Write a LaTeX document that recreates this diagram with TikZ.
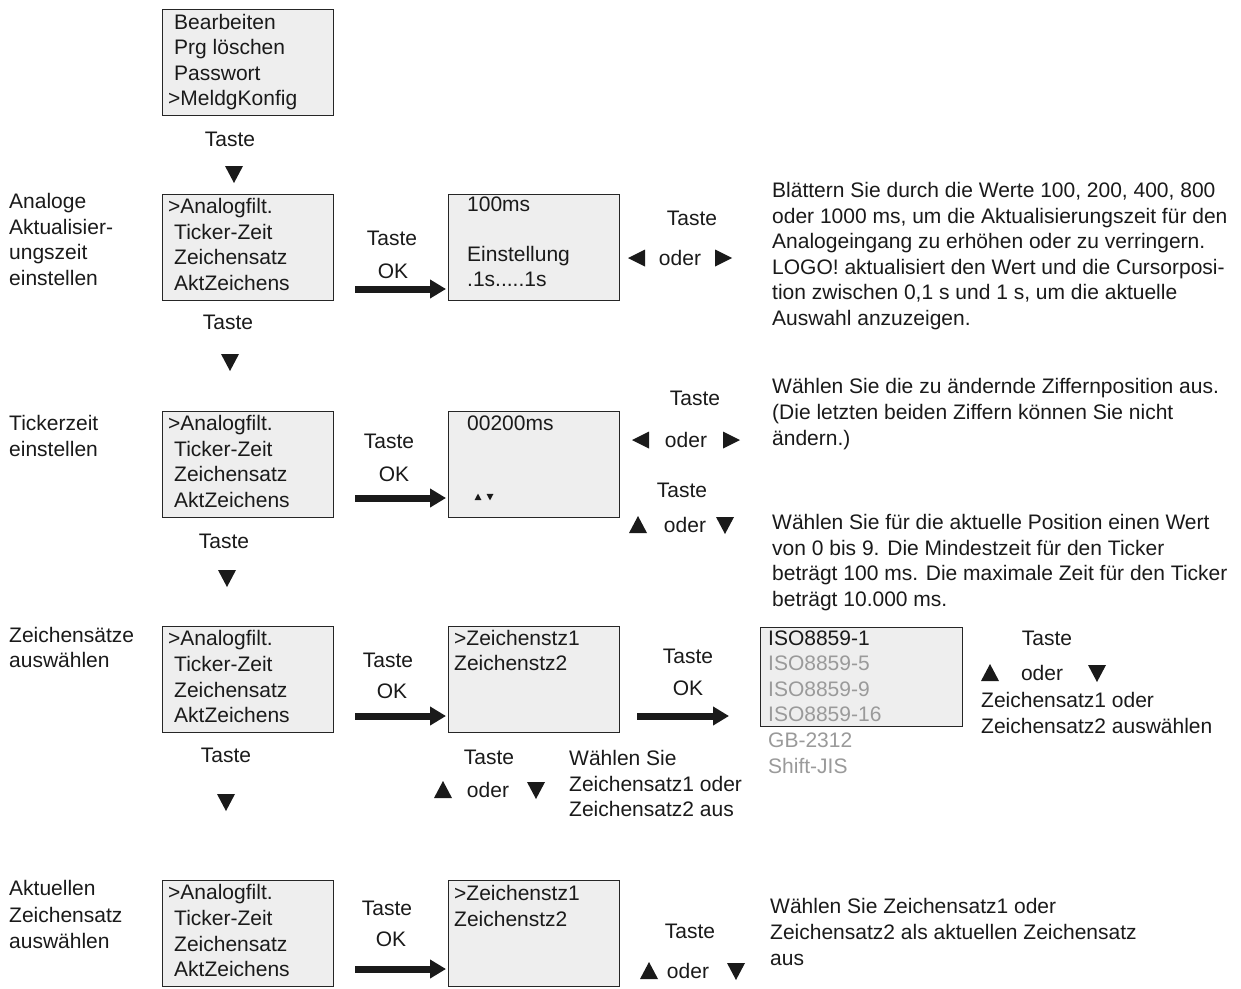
\documentclass[tikz,border=0pt]{standalone}
\usepackage{fontspec}
\setmainfont{Liberation Sans}
\usetikzlibrary{arrows.meta}
\definecolor{boxfill}{HTML}{EEEEEE}
\definecolor{greytxt}{HTML}{9A9A9A}
\definecolor{ink}{HTML}{1A1A1A}
\newcount\tnum
\newcommand\tl[3]{\global\advance\tnum by 1\relax
  \node[txt] (t\the\tnum) at ({#1},{#2+7.5}) {#3};}
\newcommand\tlg[3]{\global\advance\tnum by 1\relax
  \node[txt,text=greytxt] (t\the\tnum) at ({#1},{#2+7.5}) {#3};}
\newcommand\tc[3]{\global\advance\tnum by 1\relax
  \node[ctxt] (t\the\tnum) at ({#1},{#2+7.5}) {#3};}
\begin{document}
\begin{tikzpicture}[x=1pt,y=-1pt,
  lcd/.style={draw=black!85, line width=1.1pt, fill=boxfill, inner sep=0pt,
    minimum width=171pt, minimum height=106pt, anchor=north west},
  txt/.style={inner sep=0pt, anchor=base west, text=ink, font=\fontsize{21}{25}\selectfont},
  ctxt/.style={inner sep=0pt, anchor=base, text=ink, font=\fontsize{21}{25}\selectfont},
  bigarrow/.style={line width=7pt, draw=ink, -{Triangle[length=16pt,width=18pt]}},
  tri up/.pic={\fill[ink] (-9,8) -- (9,8) -- (0,-9) -- cycle;},
  tri down/.pic={\fill[ink] (-9,-8) -- (9,-8) -- (0,9) -- cycle;},
  tri left/.pic={\fill[ink] (8,-8.5) -- (8,8.5) -- (-9,0) -- cycle;},
  tri right/.pic={\fill[ink] (-8,-8.5) -- (-8,8.5) -- (9,0) -- cycle;}
]
\useasboundingbox (0,0) rectangle (1241,988);
\fill[white] (0,0) rectangle (1241,988);

% ---------- top menu ----------
\node[lcd] (m0) at (162,9) {};
\tl{174}{22}{Bearbeiten}
\tl{174}{47}{Prg löschen}
\tl{174}{73}{Passwort}
\tl{168}{98}{>MeldgKonfig}
\tc{230}{139}{Taste}
\pic at (234,174) {tri down};

% ---------- row 1 ----------
\tl{9}{201}{Analoge}
\tl{9}{226.5}{Aktualisier-}
\tl{9}{252}{ungszeit}
\tl{9}{277.5}{einstellen}
\node[lcd] (m1) at (162,194) {};
\tl{168}{206}{>Analogfilt.}
\tl{174}{232}{Ticker-Zeit}
\tl{174}{257}{Zeichensatz}
\tl{174}{283}{AktZeichens}
\tc{392}{238}{Taste}
\tc{393}{271}{OK}
\node[lcd] (d1) at (448,194) {};
\tl{467}{204}{100ms}
\tl{467}{254}{Einstellung}
\tl{467}{279}{.1s.....1s}
\coordinate (a1) at (355,289);
\draw[bigarrow, shorten >=2pt] (a1) -- (a1 -| d1.west);
\tc{692}{218}{Taste}
\pic at (637,258) {tri left};
\tc{680}{258}{oder}
\pic at (723,258) {tri right};
\tl{772}{190}{Blättern Sie durch die Werte 100, 200, 400, 800}
\tl{772}{215.5}{oder 1000 ms, um die Aktualisierungszeit für den}
\tl{772}{241}{Analogeingang zu erhöhen oder zu verringern.}
\tl{772}{266.5}{LOGO! aktualisiert den Wert und die Cursorposi-}
\tl{772}{292}{tion zwischen 0,1 s und 1 s, um die aktuelle}
\tl{772}{317.5}{Auswahl anzuzeigen.}
\tc{228}{322}{Taste}
\pic at (230,362) {tri down};

% ---------- row 2 ----------
\tl{9}{423}{Tickerzeit}
\tl{9}{449}{einstellen}
\node[lcd] (m2) at (162,411) {};
\tl{168}{423}{>Analogfilt.}
\tl{174}{449}{Ticker-Zeit}
\tl{174}{474}{Zeichensatz}
\tl{174}{500}{AktZeichens}
\tc{389}{441}{Taste}
\tc{394}{474}{OK}
\node[lcd] (d2) at (448,411) {};
\tl{467}{423}{00200ms}
\pic[scale=0.38] at (478,497) {tri up};
\pic[scale=0.38] at (490,497) {tri down};
\coordinate (a2) at (355,498);
\draw[bigarrow, shorten >=2pt] (a2) -- (a2 -| d2.west);
\tc{695}{398}{Taste}
\pic at (641,440) {tri left};
\tc{686}{440}{oder}
\pic at (731,440) {tri right};
\tc{682}{490}{Taste}
\pic at (638,525) {tri up};
\tc{685}{525}{oder}
\pic at (725,525) {tri down};
\tl{772}{386}{Wählen Sie die zu ändernde Ziffernposition aus.}
\tl{772}{412}{(Die letzten beiden Ziffern können Sie nicht}
\tl{772}{438}{ändern.)}
\tl{772}{522}{Wählen Sie für die aktuelle Position einen Wert}
\tl{772}{547.5}{von 0 bis 9. Die Mindestzeit für den Ticker}
\tl{772}{573}{beträgt 100 ms. Die maximale Zeit für den Ticker}
\tl{772}{598.5}{beträgt 10.000 ms.}
\tc{224}{541}{Taste}
\pic at (227,578) {tri down};

% ---------- row 3 ----------
\tl{9}{635}{Zeichensätze}
\tl{9}{660}{auswählen}
\node[lcd] (m3) at (162,626) {};
\tl{168}{638}{>Analogfilt.}
\tl{174}{664}{Ticker-Zeit}
\tl{174}{690}{Zeichensatz}
\tl{174}{715}{AktZeichens}
\tc{388}{660}{Taste}
\tc{392}{691}{OK}
\node[lcd] (d3) at (448,626) {};
\tl{454}{638}{>Zeichenstz1}
\tl{454}{663}{Zeichenstz2}
\coordinate (a3) at (355,716);
\draw[bigarrow, shorten >=2pt] (a3) -- (a3 -| d3.west);
\tc{688}{656}{Taste}
\tc{688}{688}{OK}
\node[lcd, minimum width=202pt, minimum height=99pt] (iso) at (760,627) {};
\coordinate (b3s) at (637,716);
\coordinate (b3e) at (729,716);
\draw[bigarrow] (b3s) -- (b3e);
\tl{768}{638}{ISO8859-1}
\tlg{768}{663}{ISO8859-5}
\tlg{768}{689}{ISO8859-9}
\tlg{768}{714}{ISO8859-16}
\tlg{768}{740}{GB-2312}
\tlg{768}{766}{Shift-JIS}
\tc{1047}{638}{Taste}
\pic at (990,673) {tri up};
\tc{1042}{673}{oder}
\pic at (1097,673) {tri down};
\tl{981}{700}{Zeichensatz1 oder}
\tl{981}{726}{Zeichensatz2 auswählen}
\tc{489}{757}{Taste}
\pic at (443,790) {tri up};
\tc{488}{790}{oder}
\pic at (536,790) {tri down};
\tl{569}{758}{Wählen Sie}
\tl{569}{784}{Zeichensatz1 oder}
\tl{569}{809}{Zeichensatz2 aus}
\tc{226}{755}{Taste}
\pic at (226,802) {tri down};

% ---------- row 4 ----------
\tl{9}{888}{Aktuellen}
\tl{9}{914.5}{Zeichensatz}
\tl{9}{941}{auswählen}
\node[lcd] (m4) at (162,880) {};
\tl{168}{892}{>Analogfilt.}
\tl{174}{918}{Ticker-Zeit}
\tl{174}{944}{Zeichensatz}
\tl{174}{969}{AktZeichens}
\tc{387}{908}{Taste}
\tc{391}{939}{OK}
\node[lcd] (d4) at (448,880) {};
\tl{454}{893}{>Zeichenstz1}
\tl{454}{919}{Zeichenstz2}
\coordinate (a4) at (355,969);
\draw[bigarrow, shorten >=2pt] (a4) -- (a4 -| d4.west);
\tc{690}{931}{Taste}
\pic at (649,971) {tri up};
\tc{688}{971}{oder}
\pic at (736,971) {tri down};
\tl{770}{906}{Wählen Sie Zeichensatz1 oder}
\tl{770}{932}{Zeichensatz2 als aktuellen Zeichensatz}
\tl{770}{958}{aus}
\end{tikzpicture}
\end{document}
